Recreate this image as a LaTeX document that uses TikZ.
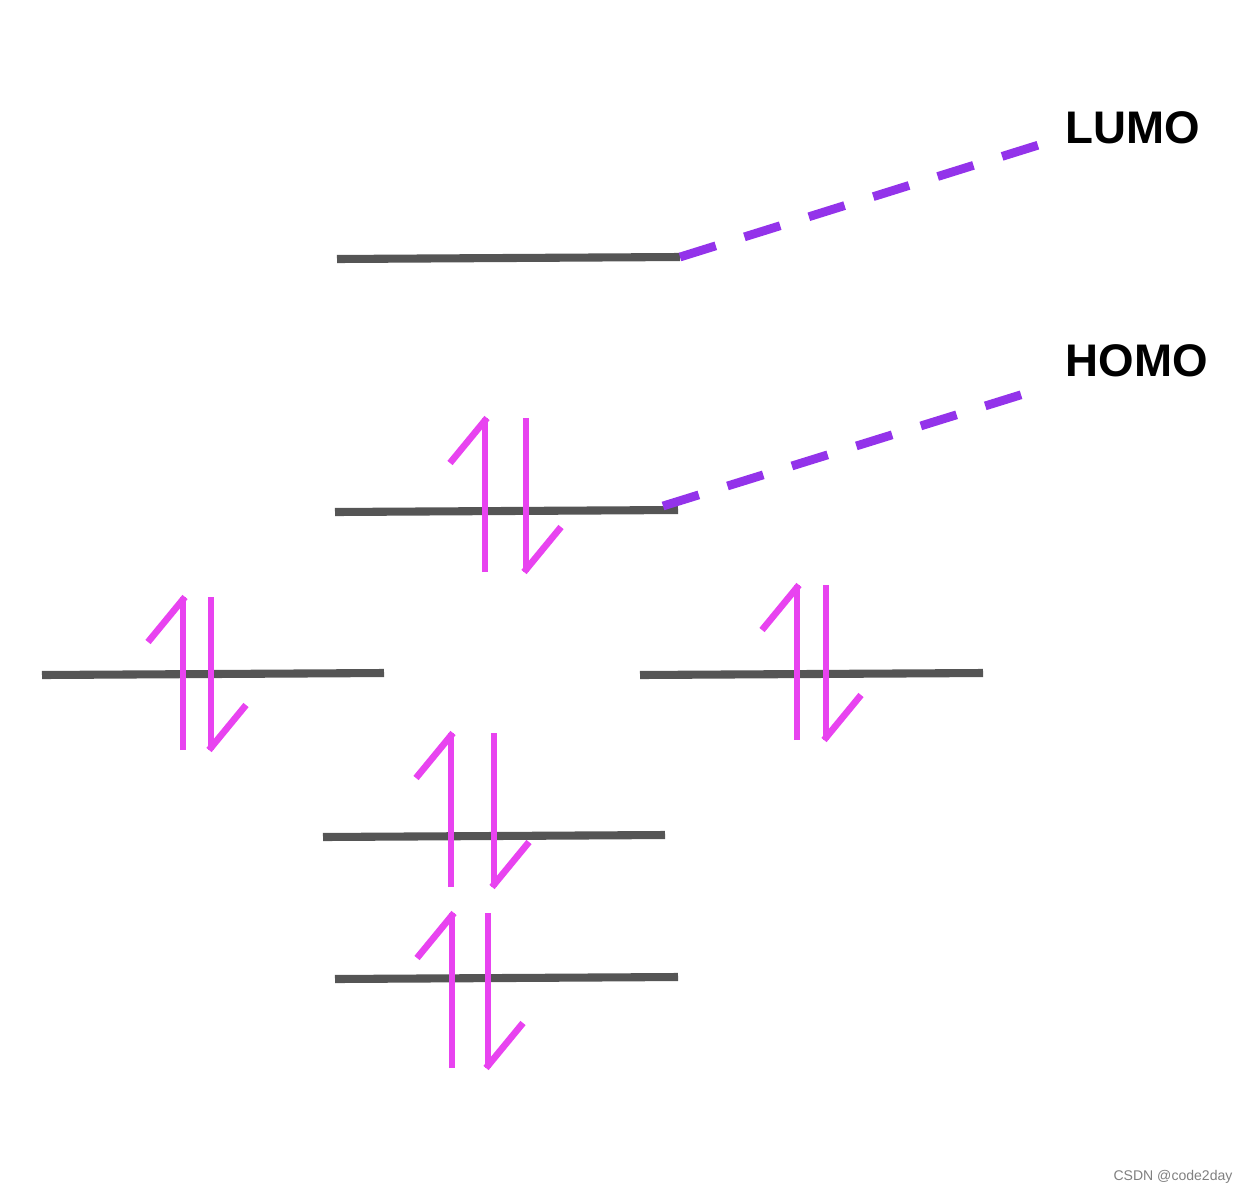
\documentclass[tikz,border=0pt]{standalone}
\usepackage{fontspec}
\setmainfont{Liberation Sans}
\usetikzlibrary{positioning}

\definecolor{levelgray}{HTML}{555555}
\definecolor{spinpink}{HTML}{E843F0}
\definecolor{markpurple}{HTML}{9333EA}

\begin{document}
\begin{tikzpicture}[x=0.02cm,y=-0.02cm,
level/.style={levelgray,line width=4.6pt},
spin/.style={spinpink,line width=3.8pt},
marker/.style={markpurple,line width=5pt,dash pattern=on 0.75cm off 0.6cm},
orbital/.style={font=\bfseries\fontsize{26}{28}\selectfont}]
\useasboundingbox (0,0) rectangle (1244,1194);
% energy levels
\draw[level] (337,259) -- (680,257) coordinate (lumo);
\draw[level] (335,512) -- (678,510) coordinate (homo);
\draw[level] (42,675) -- (384,673);
\draw[level] (640,675) -- (983,673);
\draw[level] (323,837) -- (665,835);
\draw[level] (335,979) -- (678,977);
% electron pairs: up x, down x, top, bottom
\foreach \u/\d/\t/\b in {485/526/418/572, 183/211/597/750, 797/826/585/740,
                           451/494/733/887, 452/488/913/1068}{
  \draw[spin] (\u,\b) -- (\u,\t);
  \draw[spin] (\u+2,\t) -- ++(-37,45);
  \draw[spin] (\d,\t) -- (\d,\b);
  \draw[spin] (\d-2,\b) -- ++(37,-45);
}
% labels
\node[orbital] (lumolabel) at (1133,128) {LUMO};
\node[orbital] (homolabel) at (1137,361) {HOMO};
\coordinate (lumoend) at (1045,143);
\coordinate (homoend) at (1030,392);
\draw[marker] (lumo) -- (lumoend);
\draw[marker] (663,506) coordinate (homostart) -- (homoend);
\node[gray,font=\fontsize{8}{9}\selectfont] (mark) at (1173,1177) {CSDN @code2day};
\end{tikzpicture}
\end{document}
